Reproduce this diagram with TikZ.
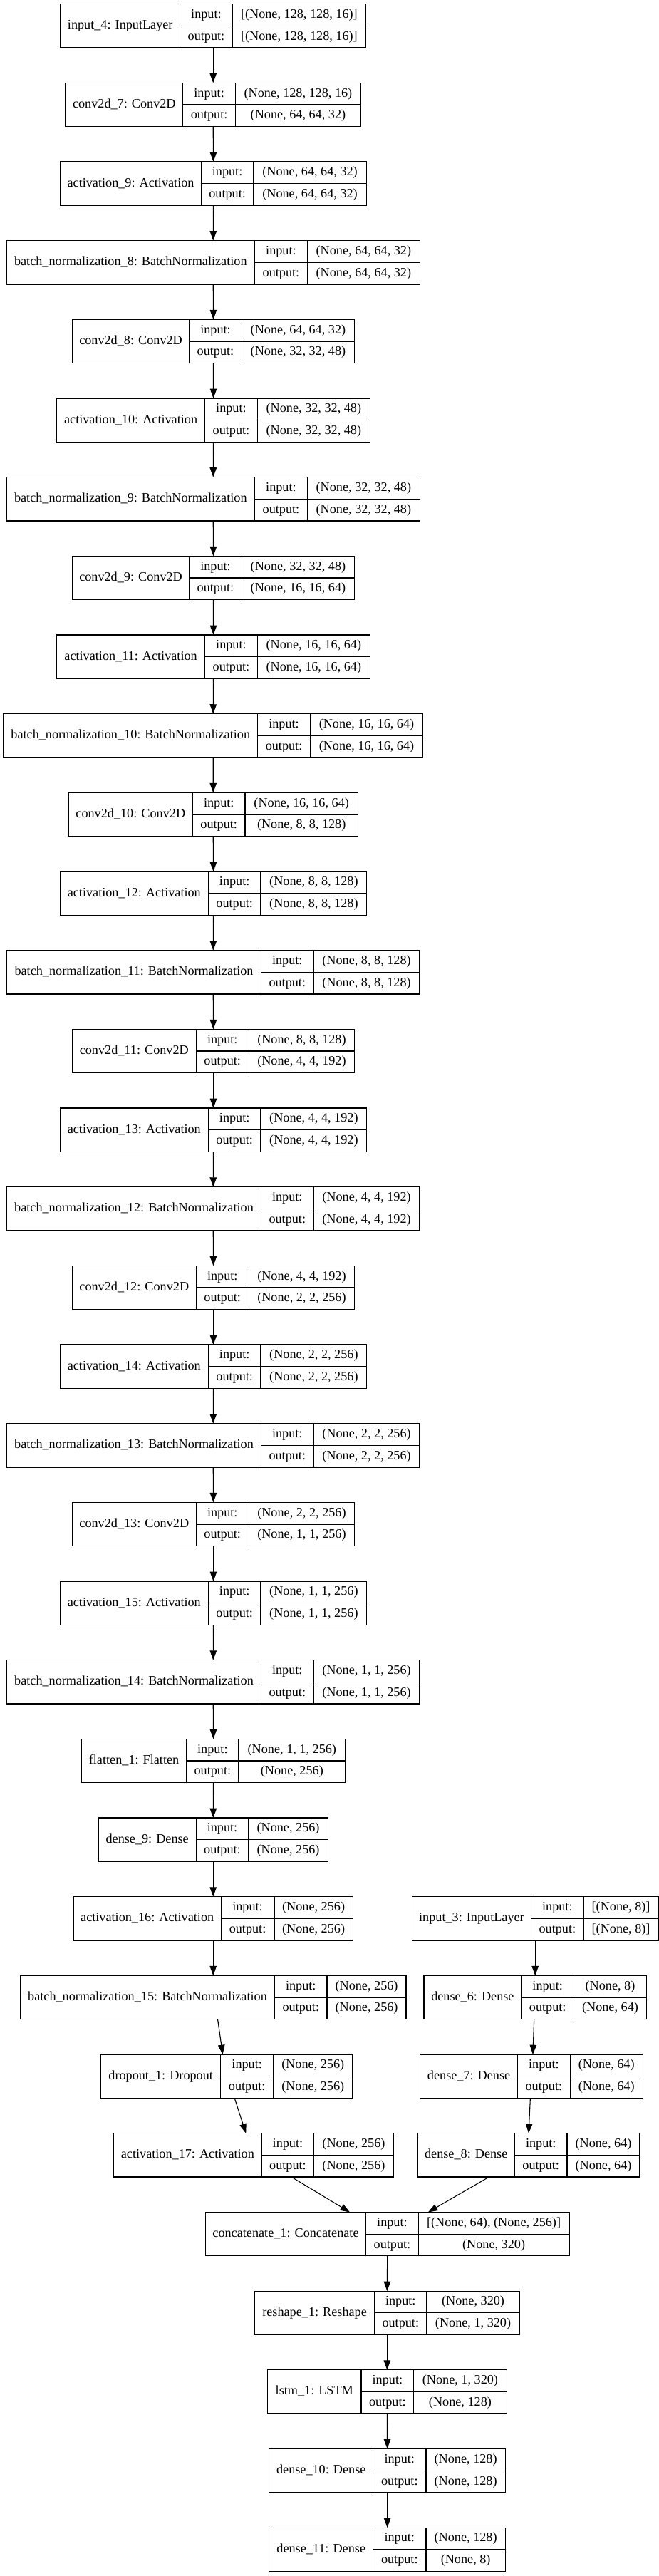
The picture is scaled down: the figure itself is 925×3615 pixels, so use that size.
\documentclass[tikz,border=0pt]{standalone}
\usepackage{fontspec}
\setmainfont{Liberation Serif}
\usetikzlibrary{arrows.meta,calc}
\tikzset{
 layerbox/.style={draw=black, line width=1.3pt, inner sep=0pt, outer sep=0pt, anchor=north west, fill=white},
 cellline/.style={draw=black, line width=1.3pt},
 txt/.style={inner sep=0pt, text height=13pt, text depth=4pt, font=\fontsize{18.2}{20}\selectfont},
 edge/.style={draw=black, line width=1.1pt, -{Triangle[length=13.5pt,width=9.5pt]}},
}
\newcommand{\layer}[9]{%
 \pgfmathsetmacro{\yt}{5.7+110.67*#6}%
 \pgfmathsetmacro{\yb}{\yt+61.3}%
 \pgfmathsetmacro{\ym}{\yt+30.65}%
 \node[layerbox, minimum width={#5-#2}, minimum height=61.3] (#1) at (#2,\yt) {};
 \draw[cellline] (#3,\yt) -- (#3,\yb) (#4,\yt) -- (#4,\yb) (#3,\ym) -- (#5,\ym);
 \node[txt] at ({(#2+#3)/2},\ym) {#7};
 \node[txt] at ({(#3+#4)/2},{\yt+15.3}) {input:};
 \node[txt] at ({(#3+#4)/2},{\yt+46}) {output:};
 \node[txt] at ({(#4+#5)/2},{\yt+15.3}) {#8};
 \node[txt] at ({(#4+#5)/2},{\yt+46}) {#9};
}
\begin{document}
\begin{tikzpicture}[x=1pt,y=-1pt]
\useasboundingbox (0,0) rectangle (925,3615);
\layer{L0}{84.8}{252.7}{326.2}{513.6}{0}{input\_4: InputLayer}{[(None, 128, 128, 16)]}{[(None, 128, 128, 16)]}
\layer{L1}{91.9}{256.8}{330.4}{506.5}{1}{conv2d\_7: Conv2D}{(None, 128, 128, 16)}{(None, 64, 64, 32)}
\layer{L2}{84.8}{282.3}{355.9}{514.2}{2}{activation\_9: Activation}{(None, 64, 64, 32)}{(None, 64, 64, 32)}
\layer{L3}{8.9}{357.7}{431.2}{589.6}{3}{batch\_normalization\_8: BatchNormalization}{(None, 64, 64, 32)}{(None, 64, 64, 32)}
\layer{L4}{101.4}{265.7}{339.3}{497.6}{4}{conv2d\_8: Conv2D}{(None, 64, 64, 32)}{(None, 32, 32, 48)}
\layer{L5}{79.5}{287.7}{361.2}{519.6}{5}{activation\_10: Activation}{(None, 32, 32, 48)}{(None, 32, 32, 48)}
\layer{L6}{8.9}{357.7}{431.2}{589.6}{6}{batch\_normalization\_9: BatchNormalization}{(None, 32, 32, 48)}{(None, 32, 32, 48)}
\layer{L7}{101.4}{265.7}{339.3}{497.6}{7}{conv2d\_9: Conv2D}{(None, 32, 32, 48)}{(None, 16, 16, 64)}
\layer{L8}{79.5}{287.7}{361.2}{519.6}{8}{activation\_11: Activation}{(None, 16, 16, 64)}{(None, 16, 16, 64)}
\layer{L9}{4.7}{361.8}{435.3}{593.7}{9}{batch\_normalization\_10: BatchNormalization}{(None, 16, 16, 64)}{(None, 16, 16, 64)}
\layer{L10}{96.1}{270.5}{344.0}{502.4}{10}{conv2d\_10: Conv2D}{(None, 16, 16, 64)}{(None, 8, 8, 128)}
\layer{L11}{84.2}{292.4}{366.0}{514.8}{11}{activation\_12: Activation}{(None, 8, 8, 128)}{(None, 8, 8, 128)}
\layer{L12}{9.5}{366.5}{440.1}{589.0}{12}{batch\_normalization\_11: BatchNormalization}{(None, 8, 8, 128)}{(None, 8, 8, 128)}
\layer{L13}{101.4}{275.2}{349.3}{497.6}{13}{conv2d\_11: Conv2D}{(None, 8, 8, 128)}{(None, 4, 4, 192)}
\layer{L14}{84.2}{292.4}{366.0}{514.8}{14}{activation\_13: Activation}{(None, 4, 4, 192)}{(None, 4, 4, 192)}
\layer{L15}{9.5}{366.5}{440.1}{589.0}{15}{batch\_normalization\_12: BatchNormalization}{(None, 4, 4, 192)}{(None, 4, 4, 192)}
\layer{L16}{101.4}{275.2}{349.3}{497.6}{16}{conv2d\_12: Conv2D}{(None, 4, 4, 192)}{(None, 2, 2, 256)}
\layer{L17}{84.2}{292.4}{366.0}{514.8}{17}{activation\_14: Activation}{(None, 2, 2, 256)}{(None, 2, 2, 256)}
\layer{L18}{9.5}{366.5}{440.1}{589.0}{18}{batch\_normalization\_13: BatchNormalization}{(None, 2, 2, 256)}{(None, 2, 2, 256)}
\layer{L19}{101.4}{275.2}{349.3}{497.6}{19}{conv2d\_13: Conv2D}{(None, 2, 2, 256)}{(None, 1, 1, 256)}
\layer{L20}{84.2}{292.4}{366.0}{514.8}{20}{activation\_15: Activation}{(None, 1, 1, 256)}{(None, 1, 1, 256)}
\layer{L21}{9.5}{366.5}{440.1}{589.0}{21}{batch\_normalization\_14: BatchNormalization}{(None, 1, 1, 256)}{(None, 1, 1, 256)}
\layer{L22}{114.5}{261.6}{335.1}{484.6}{22}{flatten\_1: Flatten}{(None, 1, 1, 256)}{(None, 256)}
\layer{L23}{138.2}{275.2}{348.8}{460.3}{23}{dense\_9: Dense}{(None, 256)}{(None, 256)}
\layer{L24}{103.2}{310.2}{384.9}{495.3}{24}{activation\_16: Activation}{(None, 256)}{(None, 256)}
\layer{L25}{28.5}{385.5}{459.1}{570.0}{25}{batch\_normalization\_15: BatchNormalization}{(None, 256)}{(None, 256)}
\layer{L26}{141.8}{309.6}{383.8}{494.7}{26}{dropout\_1: Dropout}{(None, 256)}{(None, 256)}
\layer{L27}{159.6}{367.2}{440.7}{552.2}{27}{activation\_17: Activation}{(None, 256)}{(None, 256)}
\layer{L28}{288.3}{513.7}{587.2}{799.0}{28}{concatenate\_1: Concatenate}{[(None, 64), (None, 256)]}{(None, 320)}
\layer{L29}{357.7}{525.5}{599.1}{729.0}{29}{reshape\_1: Reshape}{(None, 320)}{(None, 1, 320)}
\layer{L30}{375.5}{507.1}{580.7}{711.2}{30}{lstm\_1: LSTM}{(None, 1, 320)}{(None, 128)}
\layer{L31}{377.8}{523.7}{597.9}{709.4}{31}{dense\_10: Dense}{(None, 128)}{(None, 128)}
\layer{L32}{377.8}{523.7}{597.9}{709.4}{32}{dense\_11: Dense}{(None, 128)}{(None, 8)}
\layer{R0}{578.3}{745.6}{819.1}{924.1}{24}{input\_3: InputLayer}{[(None, 8)]}{[(None, 8)]}
\layer{R1}{594.9}{731.9}{805.5}{907.5}{25}{dense\_6: Dense}{(None, 8)}{(None, 64)}
\layer{R2}{589.6}{726.6}{800.2}{902.2}{26}{dense\_7: Dense}{(None, 64)}{(None, 64)}
\layer{R3}{586.0}{722.5}{796.0}{898.0}{27}{dense\_8: Dense}{(None, 64)}{(None, 64)}
% edges
\foreach \a/\b in {L0/L1,L1/L2,L2/L3,L3/L4,L4/L5,L5/L6,L6/L7,L7/L8,L8/L9,L9/L10,L10/L11,L11/L12,L12/L13,L13/L14,L14/L15,L15/L16,L16/L17,L17/L18,L18/L19,L19/L20,L20/L21,L21/L22,L22/L23,L23/L24,L24/L25,L28/L29,L29/L30,L30/L31,L31/L32,R0/R1}
  \draw[edge] (\a.south) -- (\b.north);
\draw[edge] ($(L25.south)+(6.3,0)$) -- ($(L26.north)+(-5.6,0)$);
\draw[edge] ($(L26.south)+(11,0)$) -- ($(L27.north)+(-10.7,0)$);
\draw[edge] ($(L27.south)+(53.4,0)$) -- ($(L28.north)+(-52.6,0)$);
\draw[edge] ($(R3.south)+(-55.8,0)$) -- ($(L28.north)+(57.2,0)$);
\draw[edge] ($(R1.south)+(-1.5,0)$) -- ($(R2.north)+(2,0)$);
\draw[edge] ($(R2.south)+(-1.5,0)$) -- (R3.north);
\end{tikzpicture}
\end{document}
